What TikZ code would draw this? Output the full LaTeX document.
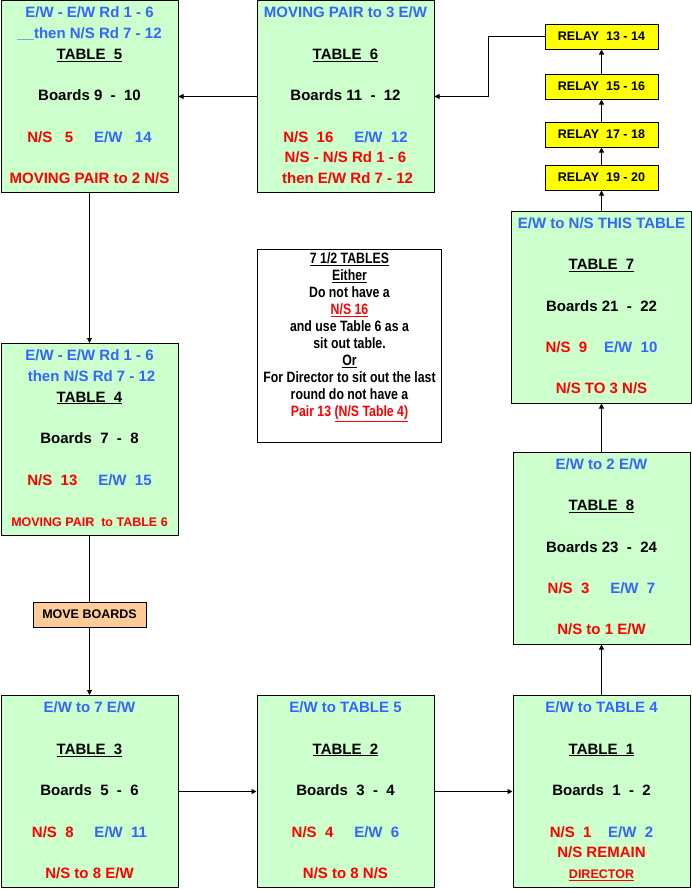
\documentclass[tikz,border=0pt]{standalone}
\usepackage{fontspec}
\setmainfont{Liberation Sans}
\newfontfamily\narrowfont{Liberation Sans}[FakeStretch=0.82]
\usetikzlibrary{arrows.meta}

\definecolor{nsred}{RGB}{255,0,0}
\definecolor{ewblue}{RGB}{51,102,255}
\definecolor{tablegreen}{RGB}{204,255,204}
\definecolor{relayyellow}{RGB}{255,255,0}
\definecolor{movepeach}{RGB}{255,204,153}
\newcommand{\ns}[1]{{\color{nsred}#1}}
\newcommand{\ew}[1]{{\color{ewblue}#1}}
\newcommand{\smalltxt}{\fontsize{12.5}{15}\selectfont}

\tikzset{
  tablebox/.style={draw, line width=1pt, fill=tablegreen, inner sep=0pt,
    minimum width=177pt, minimum height=192pt,
    font=\bfseries\fontsize{15}{20.7}\selectfont},
  relaybox/.style={draw, line width=1pt, fill=relayyellow, inner sep=0pt,
    minimum width=113pt, minimum height=25pt,
    font=\bfseries\fontsize{12.5}{15}\selectfont},
  movebox/.style={relaybox, fill=movepeach},
  notebox/.style={draw, line width=1pt, fill=white, inner sep=0pt,
    minimum width=183pt, minimum height=193pt,
    font=\narrowfont\bfseries\fontsize{15}{17}\selectfont},
  link/.style={-{Triangle[length=5pt,width=5pt]}, line width=1pt}
}

\begin{document}
\begin{tikzpicture}[x=1pt, y=-1pt]
\useasboundingbox (0,0) rectangle (692,889);

% top row
\node (t5) [tablebox] at (89.5,96.5) {
\begin{tabular}{c}
\ew{E/W - E/W Rd 1 - 6} \\
\ew{\_\_then N/S Rd 7 - 12} \\
\underline{TABLE~~5} \\
 \\
Boards 9~~-~~10 \\
 \\
\ns{N/S~~~5}~~~~~\ew{E/W~~~14} \\
 \\
\ns{MOVING PAIR to 2 N/S}
\end{tabular}
};
\node (t6) [tablebox] at (345.5,96.5) {
\begin{tabular}{c}
\ew{MOVING PAIR to 3 E/W} \\
 \\
\underline{TABLE~~6} \\
 \\
Boards 11~~-~~12 \\
 \\
\ns{N/S~~16}~~~~~\ew{E/W~~12} \\
\ns{N/S - N/S Rd 1 - 6} \\
\ns{~then E/W Rd 7 - 12}
\end{tabular}
};

% relays
\node (r1314) [relaybox] at (601.5,36.5) {RELAY~~13 - 14};
\node (r1516) [relaybox] at (601.5,86.5) {RELAY~~15 - 16};
\node (r1718) [relaybox] at (601.5,134.5) {RELAY~~17 - 18};
\node (r1920) [relaybox] at (601.5,177.5) {RELAY~~19 - 20};

\node (t7) [tablebox] at (601.5,307) {
\begin{tabular}{c}
\ew{E/W to N/S THIS TABLE} \\
 \\
\underline{TABLE~~7} \\
 \\
Boards 21~~-~~22 \\
 \\
\ns{N/S~~9}~~~~\ew{E/W~~10} \\
 \\
\ns{N/S TO 3 N/S}
\end{tabular}
};

% note
\node (note) [notebox] at (349.5,345.5) {
\begin{tabular}{c}
\underline{7 1/2 TABLES} \\
\underline{Either} \\
Do not have a \\
\ns{\underline{N/S 16}} \\
and use Table 6 as a \\
sit out table. \\
\underline{Or} \\
For Director to sit out the last \\
round do not have a \\
\ns{Pair 13 \underline{(N/S Table 4)}} \\
\mbox{}
\end{tabular}
};

\node (t4) [tablebox] at (89.5,439.5) {
\begin{tabular}{c}
\ew{E/W - E/W Rd 1 - 6} \\
\ew{~then N/S Rd 7 - 12} \\
\underline{TABLE~~4} \\
 \\
Boards~~7~~-~~8 \\
 \\
\ns{N/S~~13}~~~~~\ew{E/W~~15} \\
 \\
{\smalltxt\ns{MOVING PAIR~~to TABLE 6}}
\end{tabular}
};
\node (t8) [tablebox] at (601.5,548) {
\begin{tabular}{c}
\ew{E/W to 2 E/W} \\
 \\
\underline{TABLE~~8} \\
 \\
Boards 23~~-~~24 \\
 \\
\ns{N/S~~3}~~~~~\ew{E/W~~7} \\
 \\
\ns{N/S to 1 E/W}
\end{tabular}
};
\node (mb) [movebox] at (89.5,614.5) {MOVE BOARDS};

% bottom row
\node (t3) [tablebox] at (89.5,791.5) {
\begin{tabular}{c}
\ew{E/W to 7 E/W} \\
 \\
\underline{TABLE~~3} \\
 \\
Boards~~5~~-~~6 \\
 \\
\ns{N/S~~8}~~~~~\ew{E/W~~11} \\
 \\
\ns{N/S to 8 E/W}
\end{tabular}
};
\node (t2) [tablebox] at (345.5,791.5) {
\begin{tabular}{c}
\ew{E/W to TABLE 5} \\
 \\
\underline{TABLE~~2} \\
 \\
Boards~~3~~-~~4 \\
 \\
\ns{N/S~~4}~~~~~\ew{E/W~~6} \\
 \\
\ns{N/S to 8 N/S}
\end{tabular}
};
\node (t1) [tablebox] at (601.5,791.5) {
\begin{tabular}{c}
\ew{E/W to TABLE 4} \\
 \\
\underline{TABLE~~1} \\
 \\
Boards~~1~~-~~2 \\
 \\
\ns{N/S~~1}~~~~\ew{E/W~~2} \\
\ns{N/S REMAIN} \\
{\smalltxt\ns{\underline{DIRECTOR}}}
\end{tabular}
};

% movement
\draw [link] (t6) -- (t5);
\draw [link] (t5) -- (t4);
\draw [line width=1pt] (t4) -- (mb);
\draw [link] (mb) -- (t3);
\draw [link] (t3) -- (t2);
\draw [link] (t2) -- (t1);
\draw [link] (t1) -- (t8);
\draw [link] (t8) -- (t7);
\foreach \from/\to in {t7/r1920, r1920/r1718, r1718/r1516, r1516/r1314}
  \draw [link] (\from) -- (\to);
\coordinate (turn) at (488,36.5);
\draw [link] (r1314.west) -- (turn) |- (t6.east);
\end{tikzpicture}
\end{document}
